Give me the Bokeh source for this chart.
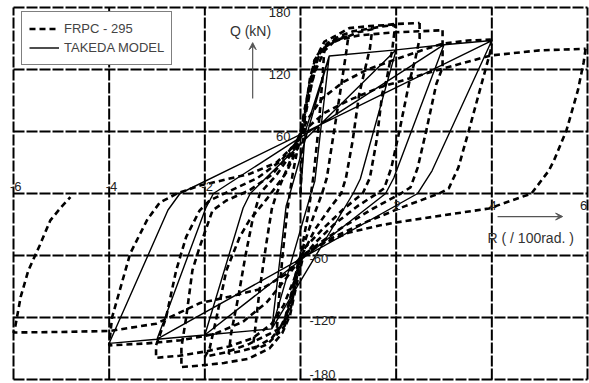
from bokeh.plotting import figure
from bokeh.models import Label, Arrow, VeeHead, Legend, LegendItem
from bokeh.embed import file_html
from bokeh.resources import INLINE

# ---------------- data ----------------
x_ticks = [-6, -4, -2, 0, 2, 4, 6]
y_ticks = [-180, -120, -60, 0, 60, 120, 180]
x_tick_labels = ["-6", "-4", "-2", "", "2", "4", "6"]
y_tick_labels = ["-180", "-120", "-60", "", "60", "120", "180"]

# Takeda model (solid)
takeda_x = [0, 0.1, 0.6, 0.3, 0.22, -0.6, -0.3, -0.22, 0.6, 2.0, 1.25, 1.1, -0.6, -2.0, -1.2, -1.05,
            2.0, 3.0, 1.95, 1.78, -2.0, -3.0, -1.98, -1.82, 3.0, 4.0, 2.75, 2.45, -3.0, -4.0, -2.77, -2.52, 4.0]
takeda_y = [0, 60, 133, 12, 0, -131, -12, 0, 133, 139, 14, 0, -131, -137, -14, 0,
            139, 144, 15, 0, -137, -141, -14, 0, 144, 148, 22, 0, -141, -145, -16, 0, 148]

# FRPC-295 test (dashed), one list per cycle
c05_x = [0, 0.04, 0.1, 0.2, 0.32, 0.45, 0.5,
         0.46, 0.38, 0.28, 0.16, 0.04, -0.08, -0.2, -0.33, -0.45, -0.5,
         -0.46, -0.38, -0.28, -0.16, -0.04, 0.08, 0.2, 0.33, 0.45, 0.5]
c05_y = [0, 40, 80, 112, 132, 140, 141,
         112, 65, 20, -20, -50, -82, -110, -128, -135, -136,
         -108, -62, -18, 20, 48, 80, 108, 128, 138, 141]
c1_x = [0.5, 0.7, 0.85, 1.0,
        0.96, 0.82, 0.67, 0.55, 0.45, 0.25, 0.08, -0.05, -0.18, -0.32, -0.5, -0.7, -0.85, -1.0,
        -0.96, -0.86, -0.72, -0.6, -0.5, -0.3, -0.1, 0.02, 0.15, 0.3, 0.5, 0.7, 0.85, 1.0]
c1_y = [141, 148, 151, 152,
        138, 95, 51, 15, 0, -25, -48, -68, -95, -120, -137, -146, -149, -150,
        -136, -95, -50, -15, 0, 22, 45, 62, 90, 118, 138, 147, 150, 152]
c15_x = [1.0, 1.2, 1.5,
         1.45, 1.23, 1.09, 0.95, 0.85, 0.6, 0.3, 0.05, -0.08, -0.2, -0.35, -0.6, -0.9, -1.2, -1.5,
         -1.45, -1.3, -1.15, -1.0, -0.85, -0.5, -0.2, -0.02, 0.1, 0.22, 0.35, 0.55, 0.8, 1.1, 1.5]
c15_y = [152, 156, 159,
         140, 97, 51, 15, 0, -15, -35, -58, -80, -105, -125, -140, -148, -152, -155,
         -135, -100, -60, -25, 0, 18, 38, 55, 80, 110, 132, 145, 152, 157, 160]
c2_x = [1.5, 1.75, 1.98,
        1.92, 1.8, 1.71, 1.59, 1.45, 1.3, 0.9, 0.45, 0.1, -0.05, -0.2, -0.33, -0.51, -1.07, -1.55, -2.0,
        -1.9, -1.76, -1.55, -1.27, -1.07, -0.7, -0.3, -0.05, 0.1, 0.25, 0.4, 0.5, 0.67, 1.02, 1.44, 1.8, 1.97,
        2.25, 2.49]
c2_y = [160, 162, 163,
        140, 110, 97, 51, 15, 0, -15, -35, -52, -68, -100, -125, -132.6, -145.5, -153.6, -158,
        -150, -121, -74.5, -42, -26, -5, 20, 45, 75, 110, 138, 147, 151, 160, 162, 163, 164,
        164.5, 165]
c25_x = [2.49, 2.49, 2.4, 2.28, 2.07, 1.9, 1.75, 1.6, 1.2, 0.7, 0.3, 0.05, -0.1, -0.22, -0.38, -0.65, -1.1,
         -1.6, -2.11, -2.49,
         -2.49, -2.39, -2.26, -2.11, -1.84, -1.55, -1.07, -0.6, -0.2, 0.0, 0.12, 0.2, 0.29, 0.43, 0.61, 0.82,
         1.23, 1.71, 2.0, 2.5, 2.97]
c25_y = [165, 150, 130, 109, 61, 25, 5, 0, -12, -30, -48, -62, -92, -118, -135, -150, -160,
         -164, -166.5, -168,
         -149, -120, -74.5, -52, -16.5, -6.8, 3, 18, 40, 58, 85, 108, 128.7, 139, 145, 149,
         153, 155, 156, 157, 158]
c3_x = [2.97, 2.97, 2.97, 2.84, 2.63, 2.45, 2.3, 2.1, 1.5, 0.9, 0.4, 0.05, -0.15, -0.35, -0.6, -1.0, -1.5,
        -2.0, -2.53, -3.02,
        -3.02, -2.81, -2.6, -2.39, -2.11, -1.9, -1.5, -0.9, -0.4, -0.05, 0.15, 0.45, 0.9, 1.4, 2.0, 2.5,
        2.98, 3.5, 3.98]
c3_y = [158, 140, 122, 106, 61, 25, 6, 0, -15, -32, -48, -60, -85, -108, -126, -140, -148,
        -153, -157, -159,
        -147, -120, -74.5, -42, -16.5, -6.8, 2, 15, 32, 52, 72, 92, 108, 120, 130, 138,
        145, 148, 149]
c4_x = [3.98, 3.99, 3.75, 3.52, 3.3, 3.1, 2.9, 2.2, 1.4, 0.7, 0.2, 0.0, -0.3, -0.7, -1.2, -1.8, -2.5,
        -3.2, -4.0,
        -3.94, -3.56, -3.2, -2.94, -2.58, -2.1, -1.06, -0.5, -0.1, 0.1, 0.5, 1.0, 1.65, 2.83, 3.98, 5.0, 5.96]
c4_y = [149, 141, 100, 61, 25, 5, 0, -12, -27, -42, -55, -63, -82, -105, -124, -136, -142,
        -145, -147,
        -120, -58, -25, -8.7, 0, 7.7, 19, 30, 48, 62, 78, 90, 102.6, 119, 133.6, 138.5, 140]
c6_x = [5.96, 5.92, 5.8, 5.56, 5.3, 5.19, 4.83, 3.94, 3.0, 2.0, 1.65, 1.0, 0.4, 0.0, -0.3, -0.8, -1.5,
        -2.1, -3.02, -3.98, -5.0, -6.0,
        -5.96, -5.85, -5.69, -5.45, -5.23, -5.0, -4.81]
c6_y = [140, 127, 100, 61, 32, 22, 0, -14.5, -21, -28, -31, -38, -50, -62, -78, -92, -100,
        -106, -126, -133, -134, -134.5,
        -128, -100, -74.5, -50, -26, -13, -3.5]

test_xs = [c05_x, c1_x, c15_x, c2_x, c25_x, c3_x, c4_x, c6_x]
test_ys = [c05_y, c1_y, c15_y, c2_y, c25_y, c3_y, c4_y, c6_y]

# ---------------- figure ----------------
p = figure(width=589, height=383, output_backend="svg", toolbar_location=None,
           x_range=(-6.272, 6.042), y_range=(-183.87, 186.77),
           min_border_left=0, min_border_right=0, min_border_top=0, min_border_bottom=0)
p.axis.visible = False
p.grid.visible = False
p.outline_line_color = None
p.background_fill_color = "white"

# grid (black lines broken by tiny white gaps)
gx_xs = [[t, t] for t in x_ticks]
gx_ys = [[y_ticks[0], y_ticks[-1]] for t in x_ticks]
gy_xs = [[x_ticks[0], x_ticks[-1]] for t in y_ticks]
gy_ys = [[t, t] for t in y_ticks]
p.multi_line(gx_xs + gy_xs, gx_ys + gy_ys, line_color="black", line_width=2, line_dash="11 2")

r_test = p.multi_line(test_xs, test_ys, line_color="black", line_width=2.6, line_dash="6 4")
r_tak = p.line(takeda_x, takeda_y, line_color="black", line_width=1.4)

FONT = "Liberation Sans"
TC = "#222222"
# y tick labels
for t, lab in zip(y_ticks, y_tick_labels):
    if not lab:
        continue
    if t > 0:
        p.add_layout(Label(x=0, y=t, text=lab, x_offset=-10, y_offset=-5, text_align="right",
                           text_baseline="middle", text_font=FONT, text_font_size="13px", text_color=TC))
    else:
        yo = -3 if t > -180 else 5
        p.add_layout(Label(x=0, y=t, text=lab, x_offset=9, y_offset=yo, text_align="left",
                           text_baseline="middle", text_font=FONT, text_font_size="13px", text_color=TC))
# x tick labels
for t, lab in zip(x_ticks, x_tick_labels):
    if not lab:
        continue
    if t < 0:
        p.add_layout(Label(x=t, y=0, text=lab, x_offset=-3.5, y_offset=6.5, text_align="left",
                           text_baseline="middle", text_font=FONT, text_font_size="13px", text_color=TC))
    else:
        xo = 1 if t < 6 else -4
        p.add_layout(Label(x=t, y=0, text=lab, x_offset=xo, y_offset=-12, text_align="center",
                           text_baseline="middle", text_font=FONT, text_font_size="13px", text_color=TC))

# axis titles and arrows
p.add_layout(Label(x=-1.045, y=157.7, text="Q (kN)", text_align="center", text_baseline="middle",
                   text_font=FONT, text_font_size="14px", text_color="#333333"))
p.add_layout(Arrow(x_start=-1.0, y_start=92, x_end=-1.0, y_end=146, line_color="#555555", line_width=1.2,
                   end=VeeHead(size=7, line_color="#555555", fill_color="#555555", line_width=1)))
p.add_layout(Label(x=3.91, y=-43.5, text="R ( / 100rad. )", text_align="left", text_baseline="middle",
                   text_font=FONT, text_font_size="14px", text_color="#333333"))
p.add_layout(Arrow(x_start=4.12, y_start=-22.3, x_end=5.48, y_end=-22.3, line_color="#555555", line_width=1.2,
                   end=VeeHead(size=7, line_color="#555555", fill_color="#555555", line_width=1)))

legend = Legend(items=[LegendItem(label="FRPC - 295", renderers=[r_test]),
                       LegendItem(label="TAKEDA MODEL", renderers=[r_tak])],
                location=(21, 318), label_text_font=FONT, label_text_font_size="13px",
                border_line_color="black", border_line_width=1, padding=7, spacing=0,
                glyph_width=30, glyph_height=19, label_height=19, label_width=100, label_standoff=5,
                background_fill_alpha=1.0)
p.add_layout(legend, "center")

open("out.html", "w").write(file_html(p, INLINE))
